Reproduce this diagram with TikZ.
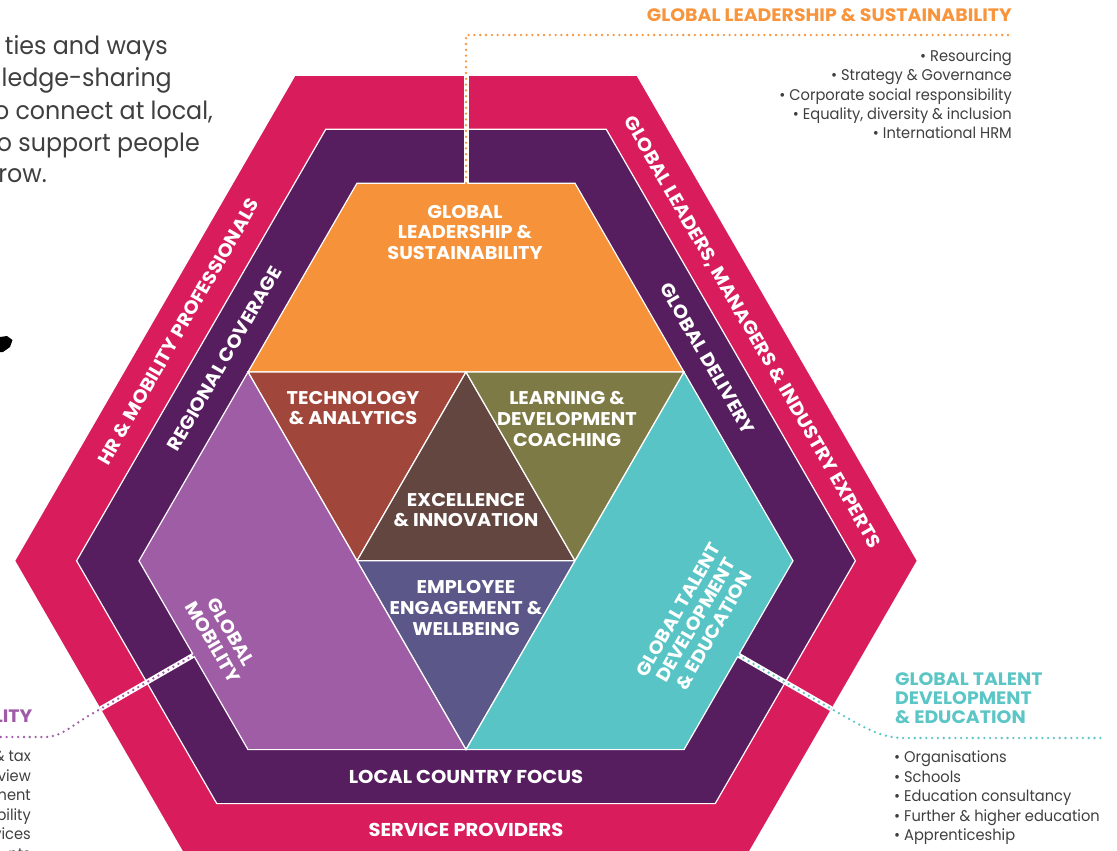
\documentclass[tikz,border=0pt]{standalone}
\usepackage{fontspec}
\setmainfont{Poppins}[FakeStretch=0.945]
\newfontfamily\boldf{Poppins}[FakeStretch=1.05]
\newfontfamily\paraf{Poppins}[FakeStretch=0.95]
\usetikzlibrary{calc}
\definecolor{crim}{HTML}{D91C5C}
\definecolor{dpur}{HTML}{561E5F}
\definecolor{orng}{HTML}{F6923A}
\definecolor{techc}{HTML}{A1463B}
\definecolor{excc}{HTML}{62463F}
\definecolor{learnc}{HTML}{7E7A45}
\definecolor{empc}{HTML}{5C5789}
\definecolor{mobc}{HTML}{9E5DA4}
\definecolor{tealc}{HTML}{58C4C5}
\definecolor{orngt}{HTML}{F7943C}
\definecolor{tealt}{HTML}{5CC5C6}
\definecolor{purt}{HTML}{A05BA8}
\definecolor{bodyc}{HTML}{3F3F3F}
\begin{document}
\begin{tikzpicture}[x=1pt,y=-1pt,
  region/.style={draw=white, line width=1.2pt, line join=miter},
  lbl/.style={text=white, font=\boldf\bfseries\fontsize{18.4}{20.6}\selectfont, align=center, inner sep=0pt},
  bandlbl/.style={text=white, font=\boldf\bfseries\fontsize{18.6}{20}\selectfont, inner sep=0pt},
  dotline/.style={line width=2.6pt, dash pattern=on 0pt off 5.8pt, line cap=round},
  strip/.style={white, line width=5pt},
  bullet/.style={text=bodyc, font=\fontsize{15.5}{19}\selectfont, inner sep=0pt},
  para/.style={text=bodyc, font=\paraf\fontsize{25}{32}\selectfont, inner sep=0pt, anchor=base east},
  head/.style={font=\boldf\bfseries\fontsize{18}{19}\selectfont, inner sep=0pt}
]
\useasboundingbox (0,0) rectangle (1117,851);
\clip (0,0) rectangle (1117,851);

% grid points of inner shape
\coordinate (A) at (357,183.2);
\coordinate (B) at (575,183.2);
\coordinate (C) at (793,560.8);
\coordinate (D) at (684,749.6);
\coordinate (E) at (248,749.6);
\coordinate (F) at (139,560.8);
\coordinate (L1) at (248,372);
\coordinate (M1) at (466,372);
\coordinate (R1) at (684,372);
\coordinate (P2) at (357,560.8);
\coordinate (Q2) at (575,560.8);
\coordinate (M3) at (466,749.6);

% outer bands
\fill[crim] (295.2,76.2) -- (636.8,76.2) -- (916.6,560.8) -- (745.8,856.6) -- (186.2,856.6) -- (15.4,560.8) -- cycle;
\path[region, fill=dpur] (325.8,129.2) -- (606.2,129.2) -- (855.4,560.8) -- (715.2,803.6) -- (216.8,803.6) -- (76.6,560.8) -- cycle;

% inner regions
\path[region, fill=orng] (A) -- (B) -- (R1) -- (L1) -- cycle;
\path[region, fill=techc] (L1) -- (M1) -- (P2) -- cycle;
\path[region, fill=excc] (M1) -- (Q2) -- (P2) -- cycle;
\path[region, fill=learnc] (M1) -- (R1) -- (Q2) -- cycle;
\path[region, fill=empc] (P2) -- (Q2) -- (M3) -- cycle;
\path[region, fill=mobc] (L1) -- (P2) -- (M3) -- (E) -- (F) -- cycle;
\path[region, fill=tealc] (R1) -- (C) -- (D) -- (M3) -- (Q2) -- cycle;

% black fragment at left edge
\fill[black] (0,337) -- (7,336) -- (12.5,340) -- (10,347) -- (3,352) -- (0,352) -- cycle;

% connectors
\coordinate (glsTop) at ($(A)!0.5!(B)$);
\coordinate (tTop) at (466,35);
\coordinate (tEnd) at (1013,35);
\draw[strip] (glsTop) -- (466,76.2);
\draw[dotline, orngt] (glsTop) -- (tTop) -- (tEnd);

\coordinate (tealS) at ($(C)!0.5!(D)$);
\coordinate (tealB) at (831.2,708.7);
\coordinate (tealE) at (1105,738);
\draw[strip] (tealS) -- (tealB);
\draw[dotline, tealt] (tealS) -- (845,716.7) .. controls (872,732) and (885,738) .. (905,738) -- (tealE);

\coordinate (mobS) at ($(F)!0.5!(E)$);
\coordinate (mobB) at (100.8,708.7);
\coordinate (mobE) at (0,737);
\draw[strip] (mobS) -- (mobB);
\draw[dotline, purt] (mobS) -- (93,713.2) .. controls (72,725) and (62,737) .. (45,737) -- (mobE);

% band labels
\node[bandlbl, rotate=60] (hr) at (178.3,331.7) {HR \& MOBILITY PROFESSIONALS};
\node[bandlbl, rotate=60] (reg) at (224.6,358.5) {REGIONAL COVERAGE};
\node[bandlbl, rotate=-60] (gl) at (752,332.5) {GLOBAL LEADERS, MANAGERS \& INDUSTRY EXPERTS};
\node[bandlbl, rotate=-60] (gd) at (707.4,358.5) {GLOBAL DELIVERY};
\node[bandlbl] (lcf) at (466,776.6) {LOCAL COUNTRY FOCUS};
\node[bandlbl] (sp) at (466,830) {SERVICE PROVIDERS};

% inner labels
\node[lbl] (gls) at (465,232.5) {GLOBAL\\LEADERSHIP \&\\SUSTAINABILITY};
\node[lbl] (tech) at (353,408) {TECHNOLOGY\\\& ANALYTICS};
\node[lbl] (learn) at (567,419) {LEARNING \&\\DEVELOPMENT\\COACHING};
\node[lbl] (exc) at (466,510) {EXCELLENCE\\\& INNOVATION};
\node[lbl] (emp) at (466,608) {EMPLOYEE\\ENGAGEMENT \&\\WELLBEING};
\node[lbl, rotate=-60] (gm) at (222,637) {GLOBAL\\MOBILITY};
\node[lbl, rotate=60] (gtd) at (696,620) {GLOBAL TALENT\\DEVELOPMENT\\\& EDUCATION};

% top-right annotation
\node[head, text=orngt, anchor=base east] (h1) at (1012,21.4) {GLOBAL LEADERSHIP \& SUSTAINABILITY};
\node[bullet, anchor=base east] (b1) at (1012,61.5) {• Resourcing};
\node[bullet, anchor=base east] (b2) at (1012,80.8) {• Strategy \& Governance};
\node[bullet, anchor=base east] (b3) at (1012,100.2) {• Corporate social responsibility};
\node[bullet, anchor=base east] (b4) at (1012,119.6) {• Equality, diversity \& inclusion};
\node[bullet, anchor=base east] (b5) at (1012,139) {• International HRM};

% bottom-right annotation
\node[head, text=tealt, anchor=base west] (h2a) at (895,685.5) {GLOBAL TALENT};
\node[head, text=tealt, anchor=base west] (h2b) at (895,704.5) {DEVELOPMENT};
\node[head, text=tealt, anchor=base west] (h2c) at (895,723.5) {\& EDUCATION};
\node[bullet, anchor=base west] (c1) at (894,762.5) {• Organisations};
\node[bullet, anchor=base west] (c2) at (894,782) {• Schools};
\node[bullet, anchor=base west] (c3) at (894,801.5) {• Education consultancy};
\node[bullet, anchor=base west] (c4) at (894,821) {• Further \& higher education};
\node[bullet, anchor=base west] (c5) at (894,840.5) {• Apprenticeship};

% bottom-left annotation (cut by the frame)
\node[head, text=purt, anchor=base east] (h3) at (32.5,722.5) {GLOBAL MOBILITY};
\node[bullet, anchor=base east] (d1) at (31,761.5) {\& tax};
\node[bullet, anchor=base east] (d2) at (31,781) {view};
\node[bullet, anchor=base east] (d3) at (31,800.5) {ment};
\node[bullet, anchor=base east] (d4) at (31,820) {bility};
\node[bullet, anchor=base east] (d5) at (31,839.5) {vices};
\node[bullet, anchor=base east] (d6) at (31,859) {nts};

% top-left paragraph (cut by the frame)
\node[para] (p1) at (168,55) {ties and ways};
\node[para] (p2) at (172,87) {ledge-sharing};
\node[para] (p3) at (213,119) {o connect at local,};
\node[para] (p4) at (200,151) {o support people};
\node[para] (p5) at (47,182) {row.};
\end{tikzpicture}
\end{document}
